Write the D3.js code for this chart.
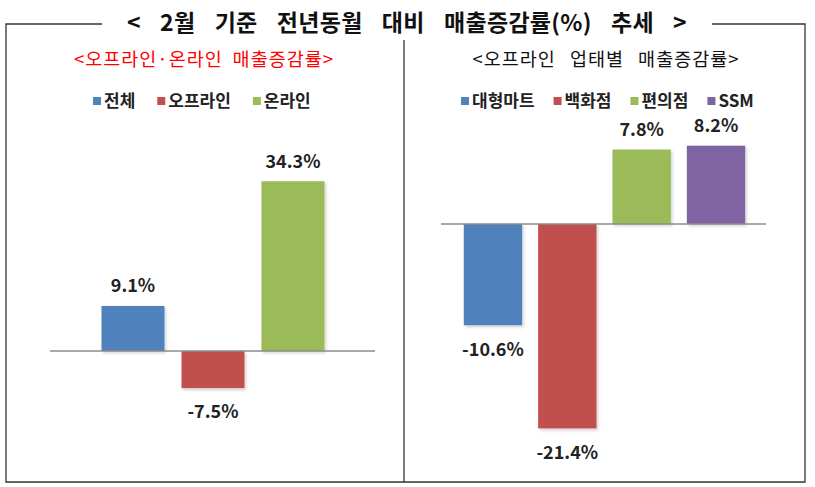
<!DOCTYPE html>
<html>
<head>
<meta charset="utf-8">
<script src="https://cdn.jsdelivr.net/npm/d3@7"></script>
<style>
  html, body { margin: 0; padding: 0; background: #fff; }
  svg { display: block; font-family: "Noto Sans CJK KR", "Noto Sans", sans-serif; }
</style>
</head>
<body>
<svg id="chart" width="815" height="487"></svg>
<script>
// ---- data ----
const mainTitle = "< 2월 기준 전년동월 대비 매출증감률(%) 추세 >";
const leftTitle = "<오프라인·온라인 매출증감률>";
const rightTitle = "<오프라인 업태별 매출증감률>";

const leftCategories = ["전체", "오프라인", "온라인"];
const leftValues = [9.1, -7.5, 34.3];
const leftColors = ["#4F81BD", "#C0504D", "#9BBB59"];

const rightCategories = ["대형마트", "백화점", "편의점", "SSM"];
const rightValues = [-10.6, -21.4, 7.8, 8.2];
const rightColors = ["#4F81BD", "#C0504D", "#9BBB59", "#8064A2"];

// ---- drawing ----
const svg = d3.select("#chart");

const defs = svg.append("defs");
const f = defs.append("filter").attr("id", "shadow")
  .attr("x", "-10%").attr("y", "-10%").attr("width", "130%").attr("height", "130%");
f.append("feDropShadow").attr("dx", 1.5).attr("dy", 2).attr("stdDeviation", 1.5)
  .attr("flood-color", "#000").attr("flood-opacity", 0.18);

// fit text to a target width by widening word spaces
function fitWords(sel, target) {
  const w = sel.node().getComputedTextLength();
  const n = (sel.text().match(/ /g) || []).length;
  if (n > 0 && w < target) sel.attr("word-spacing", (target - w) / n);
}

// frame
const frame = svg.append("g").attr("fill", "none").attr("stroke", "#333").attr("stroke-width", 1.3);
frame.append("path").attr("d", "M102,24 H6 V482 H805 V24 H712");
frame.append("line").attr("x1", 404).attr("x2", 404).attr("y1", 40).attr("y2", 482);

// main title
const mt = svg.append("text")
  .attr("x", 407).attr("y", 31)
  .attr("text-anchor", "middle")
  .attr("font-size", 23).attr("font-weight", "bold").attr("fill", "#111")
  .attr("letter-spacing", 0.3)
  .text(mainTitle);
fitWords(mt, 560);

function drawPanel(opts) {
  const g = svg.append("g");
  const st = g.append("text")
    .attr("x", opts.titleX).attr("y", 66)
    .attr("text-anchor", "middle")
    .attr("font-size", 18.5).attr("fill", opts.titleColor)
    .attr("letter-spacing", 1)
    .text(opts.title);
  fitWords(st, opts.titleW);

  const x = d3.scaleBand()
    .domain(opts.categories)
    .range(opts.xRange)
    .paddingInner(opts.padIn)
    .paddingOuter(opts.padIn / 2);

  const y = d3.scaleLinear()
    .domain([-20, 20])
    .range([opts.zeroY + 20 * opts.pxPerUnit, opts.zeroY - 20 * opts.pxPerUnit]);

  // legend
  const lg = g.append("g");
  let lx = opts.legendX;
  opts.categories.forEach((c, i) => {
    lg.append("rect").attr("x", lx).attr("y", opts.legendY - 4)
      .attr("width", 8).attr("height", 8).attr("fill", opts.colors[i]);
    const t = lg.append("text").attr("x", lx + 11).attr("y", opts.legendY + 6)
      .attr("font-size", 17).attr("font-weight", "bold").attr("fill", "#222")
      .text(c);
    lx += t.node().getComputedTextLength() + 11 + opts.legendGap;
  });

  // bars
  const data = opts.categories.map((c, i) => ({ c, v: opts.values[i], col: opts.colors[i] }));
  g.selectAll("rect.bar").data(data).join("rect")
    .attr("class", "bar")
    .attr("x", d => x(d.c))
    .attr("width", x.bandwidth())
    .attr("y", d => Math.min(y(d.v), y(0)))
    .attr("height", d => Math.abs(y(d.v) - y(0)))
    .attr("fill", d => d.col)
    .attr("filter", "url(#shadow)");

  // zero line
  g.append("line")
    .attr("x1", opts.axisX[0]).attr("x2", opts.axisX[1])
    .attr("y1", y(0)).attr("y2", y(0))
    .attr("stroke", "#8c8c8c").attr("stroke-width", 1.5);

  // value labels
  g.selectAll("text.val").data(data).join("text")
    .attr("class", "val")
    .attr("x", d => x(d.c) + x.bandwidth() / 2)
    .attr("y", d => d.v >= 0 ? y(d.v) - 20 : y(d.v) + 24)
    .attr("dy", "0.35em")
    .attr("text-anchor", "middle")
    .attr("font-size", 18).attr("font-weight", "bold").attr("fill", "#222")
    .text(d => d.v.toFixed(1) + "%");
}

drawPanel({
  title: leftTitle, titleX: 204, titleW: 260, titleColor: "#FF0000",
  categories: leftCategories, values: leftValues, colors: leftColors,
  xRange: [93, 333], padIn: 0.2125, zeroY: 351, pxPerUnit: 4.95,
  axisX: [50, 375], legendX: 93, legendY: 101, legendGap: 22
});

drawPanel({
  title: rightTitle, titleX: 606, titleW: 267, titleColor: "#111",
  categories: rightCategories, values: rightValues, colors: rightColors,
  xRange: [455.8, 753.2], padIn: 0.215, zeroY: 224, pxPerUnit: 9.55,
  axisX: [441, 766], legendX: 461, legendY: 101, legendGap: 19
});
</script>
</body>
</html>
